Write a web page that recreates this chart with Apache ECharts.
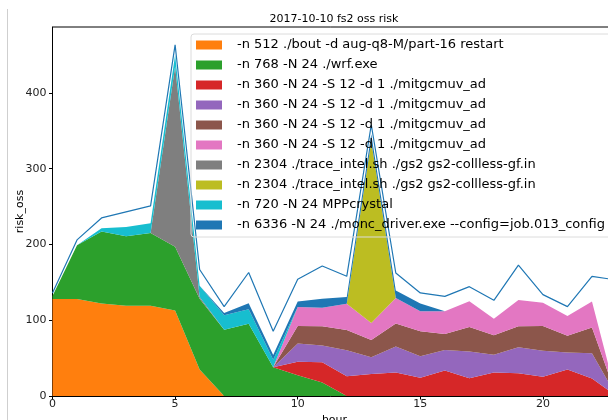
<!DOCTYPE html>
<html><head><meta charset="utf-8">
<script src="https://cdn.jsdelivr.net/npm/echarts@6/dist/echarts.min.js"></script>
<style>html,body{margin:0;padding:0;background:#fff}#c{width:608px;height:420px}</style>
</head><body><div id="c"></div>
<script>
const hours = [0,1,2,3,4,5,6,7,8,9,10,11,12,13,14,15,16,17,18,19,20,21,22,23];
const jobNames = [
  '-n 512 ./bout -d aug-q8-M/part-16 restart',
  '-n 768 -N 24 ./wrf.exe',
  '-n 360 -N 24 -S 12 -d 1 ./mitgcmuv_ad',
  '-n 360 -N 24 -S 12 -d 1 ./mitgcmuv_ad ',
  '-n 360 -N 24 -S 12 -d 1 ./mitgcmuv_ad  ',
  '-n 360 -N 24 -S 12 -d 1 ./mitgcmuv_ad   ',
  '-n 2304 ./trace_intel.sh ./gs2 gs2-collless-gf.in',
  '-n 2304 ./trace_intel.sh ./gs2 gs2-collless-gf.in ',
  '-n 720 -N 24 MPPcrystal',
  '-n 6336 -N 24 ./monc_driver.exe --config=job.013_config'
];
const bout     = [128,128,122,119,119,113,35,0,0,0,0,0,0,0,0,0,0,0,0,0,0,0,0,0];
const wrf      = [4,71,95,92,96,84,93.5,87.6,95.5,38,27.3,17.7,0,0,0,0,0,0,0,0,0,0,0,0];
const mitgcm1  = [0,0,0,0,0,0,0,0,0,0,18,27,26,29,31,24,33.5,23.5,31,30,25.5,35,23,0];
const mitgcm2  = [0,0,0,0,0,0,0,0,0,0,24,22,34.3,22,34.3,28.6,27.2,35.1,23.3,34.2,34.3,22.4,33.4,0];
const mitgcm3  = [0,0,0,0,0,0,0,0,0,0,23,25.5,26.7,22.9,30.3,33,21.1,32.5,25.9,27.8,32.5,22,33.9,0];
const mitgcm4  = [0,0,0,0,0,0,0,0,0,0,25,24.2,34.9,22.4,33.9,26.3,29.9,33.9,21.6,34.6,30.8,26.3,34.3,0];
const trace1   = [0,0,0,0,0,238,2,0,0,0,0,0,0,0,0,0,0,0,0,0,0,0,0,0];
const trace2   = [0,0,0,0,0,0,0,0,0,0,0,0,0,240,0,0,0,0,0,0,0,0,0,0];
const mppcrystal = [0,0,4.5,12,13,15,15,19,19,10,0,0,0,0,0,0,0,0,0,0,0,0,0,0];
const monc     = [0,0,0,0,0,0,0,3,8,6,7.5,12,8.7,9,9.6,10.2,0,0,0,0,0,0,0,0];
const total    = [136,206,235,243,251,463.5,167,118,163,85.4,154,171.5,158,358,162.3,136,131.5,144.3,126.3,172.8,133.8,118,158,153];
const xTickLabels = ['0','5','10','15','20'];
const yTicks = [0,100,200,300,400];

const stackSeries = [bout,wrf,mitgcm1,mitgcm2,mitgcm3,mitgcm4,trace1,trace2,mppcrystal,monc];
const colors = ['#ff7f0e','#2ca02c','#d62728','#9467bd','#8c564b','#e377c2','#7f7f7f','#bcbd22','#17becf','#1f77b4'];
const FONT = 'DejaVu Sans';

const series = stackSeries.map((vals, k) => ({
  type: 'line', name: jobNames[k], stack: 'risk',
  data: vals.slice(),
  symbol: 'none', showSymbol: false, silent: true,
  lineStyle: { width: 0 },
  itemStyle: { color: colors[k] },
  areaStyle: { color: colors[k], opacity: 1 },
  z: 2
}));
series.push({
  type: 'line', name: 'total',
  data: total.slice(),
  symbol: 'none', showSymbol: false, silent: true,
  lineStyle: { color: '#1f77b4', width: 1.2 },
  itemStyle: { color: '#1f77b4' },
  z: 3
});

const chart = echarts.init(document.getElementById('c'), null, { renderer: 'canvas' });
chart.setOption({
  animation: false,
  backgroundColor: '#fff',
  textStyle: { fontFamily: FONT },
  title: {
    text: '2017-10-10 fs2 oss risk', left: 334, top: 14, padding: 0, textAlign: 'center',
    textStyle: { fontFamily: FONT, fontSize: 11, fontWeight: 'normal', color: '#000' }
  },
  grid: { left: 52.5, top: 27, width: 564, height: 369, show: true, borderColor: '#000', borderWidth: 1,
          backgroundColor: 'transparent', outerBoundsMode: 'none', containLabel: false },
  legend: {
    orient: 'vertical', left: 191, top: 34, padding: [4, 20, 5, 5],
    itemWidth: 26, itemHeight: 9, itemGap: 6, icon: 'rect',
    selectedMode: false,
    borderColor: '#dcdcdc', borderWidth: 1, borderRadius: 3, backgroundColor: 'transparent',
    textStyle: { fontFamily: FONT, fontSize: 13, color: '#000', lineHeight: 14, padding: [0, 0, 0, 10] },
    data: jobNames
  },
  xAxis: {
    type: 'category', boundaryGap: false,
    data: hours.map(String),
    name: 'hour', nameLocation: 'middle', nameGap: 18,
    nameTextStyle: { fontFamily: FONT, fontSize: 11, color: '#000' },
    axisLine: { show: true, lineStyle: { color: '#000', width: 1 } },
    axisTick: { show: true, length: 3.5, interval: (i, v) => xTickLabels.indexOf(v) >= 0, lineStyle: { color: '#000' } },
    axisLabel: { fontFamily: FONT, fontSize: 11, color: '#222', margin: 3, interval: (i, v) => xTickLabels.indexOf(v) >= 0 },
    splitLine: { show: false }
  },
  yAxis: {
    type: 'value', min: 0, max: 487,
    name: 'risk_oss', nameLocation: 'middle', nameGap: 27, nameRotate: 90, nameMoveOverlap: false,
    nameTextStyle: { fontFamily: FONT, fontSize: 11, color: '#000' },
    axisLine: { show: true, lineStyle: { color: '#000', width: 1 } },
    axisTick: { show: true, length: 3.5, lineStyle: { color: '#000' }, customValues: yTicks },
    axisLabel: { fontFamily: FONT, fontSize: 11, color: '#222', margin: 6, customValues: yTicks },
    splitLine: { show: false }
  },
  graphic: [{
    type: 'line', shape: { x1: 7.5, y1: 9, x2: 7.5, y2: 420 },
    style: { stroke: '#cfcfcf', lineWidth: 1 }, silent: true
  }],
  series: series
});
</script>
</body></html>
